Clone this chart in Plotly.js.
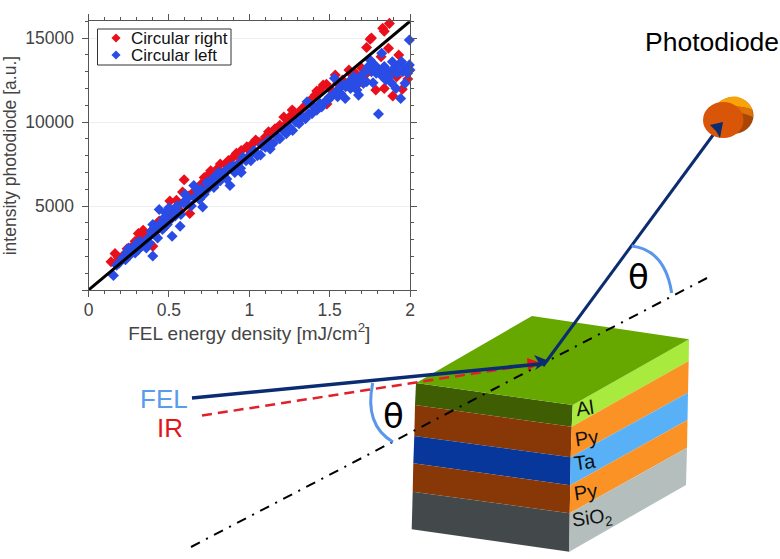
<!DOCTYPE html>
<html><head><meta charset="utf-8">
<script src="https://cdn.plot.ly/plotly-3.0.0.min.js"></script>
<style>html,body{margin:0;padding:0;background:#fff}#c{width:780px;height:559px}</style>
</head><body><div id="c"></div>
<script>
const rightX=[.14,.165,.186,.17,.22,.24,.26,.28,.29,.31,.32,.33,.34,.35,.36,.38,.40,.41,.42,.44,.45,.47,.49,.50,.506,.52,.547,.55,.57,.585,.595,.60,.62,.63,.65,.67,.69,.70,.72,.73,.75,.76,.78,.79,.80,.82,.84,.85,.87,.88,.90,.92,.94,.95,.985,1.0,1.02,1.04,1.06,1.08,1.10,1.12,1.14,1.16,1.19,1.215,1.23,1.25,1.267,1.28,1.30,1.33,1.35,1.38,1.41,1.42,1.44,1.46,1.48,1.483,1.50,1.535,1.55,1.58,1.62,1.64,1.66,1.68,1.70,1.72,1.73,1.752,1.76,1.787,1.80,1.82,1.83,1.84,1.84,1.866,1.872,1.88,1.893,1.917,1.93,1.952,1.986];
const rightY=[1680,2170,1940,1600,2100,2450,2300,2670,2900,3360,3100,3300,3560,3250,3000,3400,2610,3700,3500,4100,3800,3700,4400,4100,5300,4500,5340,4900,4700,5830,6560,5300,5600,4550,5800,5900,5400,6300,6700,6200,6900,7100,6500,6900,7200,7500,7000,7500,7700,7300,7900,8135,7900,8300,8530,8300,8700,8930,8800,8800,9100,9425,9300,9600,9800,10300,9900,10300,10714,10600,10500,10800,11000,11300,11600,11850,11900,12200,12250,11070,12000,12800,12300,12500,13100,12800,12900,12300,13200,12800,14440,14920,15000,11900,13000,13890,15575,15400,12000,14385,15870,12900,11550,12700,13990,11945,12560];
const leftX=[.155,.175,.19,.21,.23,.24,.25,.26,.27,.28,.29,.30,.31,.32,.33,.35,.36,.37,.38,.39,.40,.40,.41,.42,.43,.44,.45,.46,.47,.48,.49,.50,.51,.52,.525,.54,.55,.56,.57,.575,.59,.60,.61,.62,.64,.655,.66,.68,.69,.70,.71,.72,.735,.74,.76,.77,.78,.79,.80,.81,.82,.84,.85,.86,.88,.88,.90,.91,.93,.946,.95,.96,.98,1.0,1.01,1.03,1.05,1.07,1.08,1.10,1.12,1.13,1.15,1.17,1.19,1.21,1.23,1.25,1.27,1.29,1.31,1.33,1.35,1.36,1.37,1.39,1.40,1.42,1.44,1.45,1.47,1.49,1.50,1.52,1.53,1.54,1.55,1.56,1.57,1.58,1.597,1.60,1.62,1.63,1.65,1.66,1.67,1.68,1.69,1.70,1.71,1.72,1.73,1.74,1.752,1.76,1.77,1.78,1.79,1.804,1.81,1.824,1.83,1.84,1.85,1.86,1.87,1.884,1.89,1.90,1.913,1.92,1.93,1.942,1.948,1.955,1.969,1.975,1.985,1.996,1.996,2.0];
const leftY=[870,1480,1600,1900,1800,2270,2500,2100,2300,2500,2200,2800,2400,2900,2600,2750,2500,3100,2800,3500,2020,3900,3300,3700,3100,4790,4000,3600,4300,4600,3900,4900,4200,3200,4700,4400,5000,4600,3800,4500,5200,5700,5100,5500,5000,6220,5500,5900,5400,6000,4940,5700,6400,6000,6200,6600,6100,6800,6400,7000,6500,6800,7100,6600,6220,7300,7400,7000,7500,7240,7000,7900,7700,8000,7700,8300,8000,8035,8600,8500,8900,8400,8730,9200,9000,9500,9300,9700,9500,10000,9900,10300,10200,11200,10500,10500,10900,10700,11100,10900,11200,11300,11500,11600,12600,11800,11500,12000,11700,12200,11400,12100,12400,12000,12700,12200,11900,11600,12500,12800,12300,13000,12400,13300,13690,13000,12340,13400,12900,10475,13100,14090,12700,13300,12500,13000,12700,12340,13590,13200,12000,12900,13400,11400,13590,13000,12300,13200,12900,14880,13400,13100];
const fitX=[0,2];
const fitY=[0,16000];
const xTickVals=[0,.5,1,1.5,2];
const xTickText=['0','0.5','1','1.5','2'];
const yTickVals=[0,5000,10000,15000];
const yTickText=['','5000','10000','15000'];
const seriesNames=['Circular right','Circular left'];

const W=780,H=559;
const SANS='"Liberation Sans",Arial,sans-serif';
const RED='#e9101c',BLUE='#2a4ce6';
const poly=(d,fill)=>({type:'path',xref:'x2',yref:'y2',path:d,fillcolor:fill,line:{width:0},layer:'above'});
const stroke=(d,color,width,dash)=>({type:'path',xref:'x2',yref:'y2',path:d,line:{color,width,dash:dash||'solid'},layer:'above'});
const disc=(x0,x1,y0,y1,fill)=>({type:'circle',xref:'x2',yref:'y2',x0,x1,y0,y1,fillcolor:fill,line:{width:0},layer:'above'});
const NAVY='#0b2c70',ARC='#5a96ea';
const shapes=[
 {type:'rect',xref:'x2',yref:'y2',x0:97.5,x1:231,y0:29,y1:65,fillcolor:'#fff',line:{color:'#333',width:1},layer:'below'},
 poly('M416,383 L572.7,405 L571.7,426.7 L415,405 Z','#3f5e04'),
 poly('M415,405 L571.7,426.7 L570.7,457.3 L414.3,436 Z','#883806'),
 poly('M414.3,436 L570.7,457.3 L570.3,485.3 L413.3,463.3 Z','#08379b'),
 poly('M413.3,463.3 L570.3,485.3 L569.7,513.3 L412.7,491.7 Z','#883806'),
 poly('M412.7,491.7 L569.7,513.3 L569.3,551.7 L411.7,529.3 Z','#43494b'),
 poly('M572.7,405 L689,339.3 L688.7,361 L571.7,426.7 Z','#a9ea3e'),
 poly('M571.7,426.7 L688.7,361 L688,392.7 L570.7,457.3 Z','#fb9226'),
 poly('M570.7,457.3 L688,392.7 L687.5,420 L570.3,485.3 Z','#58b1f6'),
 poly('M570.3,485.3 L687.5,420 L687,447.7 L569.7,513.3 Z','#fb9226'),
 poly('M569.7,513.3 L687,447.7 L686,485 L569.3,551.7 Z','#b4bfbd'),
 poly('M416,383 L532,316 L689,339.3 L572.7,405 Z','#66a700'),
 stroke('M191,547 L707,278','#000',2,'10px,7px,2px,7px'),
 stroke('M202,415.5 L532,364.5','#e0202a',2.5,'10px,6px'),
 poly('M541,363 L527,358 L528,370 Z','#f0101a'),
 stroke('M192,398 L540,364',NAVY,3.5),
 poly('M549,361 L534,355 L539,363 L535,370 Z',NAVY),
 stroke('M543,366 L716,131',NAVY,3),
 disc(713,753.5,97,134,'#a84606'),
 poly('M713,112 C716,100 730,95 738,97 C746,99 751,105 752.5,110 C744,106 728,104 713,112 Z','#f9a30b'),
 poly('M713,112 C728,104 744,106 752.5,110 L753,117 C742,112 728,110 713,116 Z','#dc7208'),
 disc(703,743.5,102,138,'#d95508'),
 poly('M723,122 L710,125 L716,131 L720,138 Z',NAVY),
 stroke('M372.7,383 Q364,425 393,442',ARC,3),
 stroke('M631.7,246 Q665,250 671.7,293',ARC,3)
];
const note=(text,x,y,size,color,extra)=>Object.assign({xref:'x2',yref:'y2',x,y,text,showarrow:false,xanchor:'center',yanchor:'middle',font:{size,color,family:SANS}},extra||{});
const annotations=[
 note(seriesNames[0],129,38,17,'#111',{xanchor:'left'}),
 note(seriesNames[1],129,55,17,'#111',{xanchor:'left'}),
 note('Photodiode',712,42,26.5,'#000'),
 note('FEL',164,399,26,'#5a9cec'),
 note('IR',170,428,26,'#e0161c'),
 note('\u03b8',393,416,34,'#000',{font:{size:34,color:'#000',family:'"DejaVu Sans"'}}),
 note('\u03b8',638.5,277,34,'#000',{font:{size:34,color:'#000',family:'"DejaVu Sans"'}}),
 note('Al',585,408,20,'#111',{textangle:-8}),
 note('Py',586,438,20,'#111',{textangle:-8}),
 note('Ta',585,462,20,'#111',{textangle:-8}),
 note('Py',585,492,20,'#111',{textangle:-8}),
 note('SiO<sub>2</sub>',592,518,19.5,'#111',{textangle:-8})
];
const axisColor='#555',tickFont={family:SANS,size:17.5,color:'#444'};
const traces=[
 {x:rightX,y:rightY,name:seriesNames[0],mode:'markers',type:'scatter',cliponaxis:false,marker:{symbol:'diamond',size:8.5,color:RED}},
 {x:leftX,y:leftY,name:seriesNames[1],mode:'markers',type:'scatter',cliponaxis:false,marker:{symbol:'diamond',size:8.5,color:BLUE}},
 {x:fitX,y:fitY,mode:'lines',type:'scatter',line:{color:'#000',width:3}},
 {x:[116],y:[38],xaxis:'x2',yaxis:'y2',mode:'markers',type:'scatter',marker:{symbol:'diamond',size:7,color:RED},hoverinfo:'skip'},
 {x:[116],y:[55],xaxis:'x2',yaxis:'y2',mode:'markers',type:'scatter',marker:{symbol:'diamond',size:7,color:BLUE},hoverinfo:'skip'}
];
const layout={
 width:W,height:H,margin:{l:0,r:0,t:0,b:0},paper_bgcolor:'#fff',plot_bgcolor:'rgba(0,0,0,0)',showlegend:false,
 xaxis:{domain:[88.5/W,410/W],range:[0,2],tickmode:'array',tickvals:xTickVals,ticktext:xTickText,ticks:'outside',ticklen:6,ticklabelstandoff:-2,tickcolor:axisColor,showline:true,mirror:'ticks',linecolor:axisColor,linewidth:1,showgrid:false,zeroline:false,tickfont:tickFont,
  minor:{tickmode:'linear',tick0:0,dtick:.1,ticks:'outside',ticklen:3,tickcolor:axisColor},
  title:{text:'FEL energy density [mJ/cm<sup>2</sup>]',standoff:3,font:{family:SANS,size:19,color:'#444'}}},
 yaxis:{domain:[1-290/H,1-21.2/H],range:[0,16000],tickmode:'array',tickvals:yTickVals,ticktext:yTickText,ticks:'outside',ticklen:6,ticklabelstandoff:4,tickcolor:axisColor,showline:true,mirror:'ticks',linecolor:axisColor,linewidth:1,showgrid:true,gridcolor:'#eeeeee',zeroline:false,tickfont:tickFont,
  minor:{tickmode:'linear',tick0:0,dtick:1000,ticks:'outside',ticklen:3,tickcolor:axisColor},
  title:{text:'\u00a0\u00a0intensity photodiode [a.u.]',standoff:6,font:{family:SANS,size:17.5,color:'#444'}}},
 xaxis2:{domain:[0,1],range:[0,W],anchor:'y2',visible:false,fixedrange:true},
 yaxis2:{domain:[0,1],range:[H,0],anchor:'x2',visible:false,fixedrange:true},
 shapes,annotations
};
Plotly.newPlot('c',traces,layout,{displayModeBar:false,staticPlot:true});
</script></body></html>
